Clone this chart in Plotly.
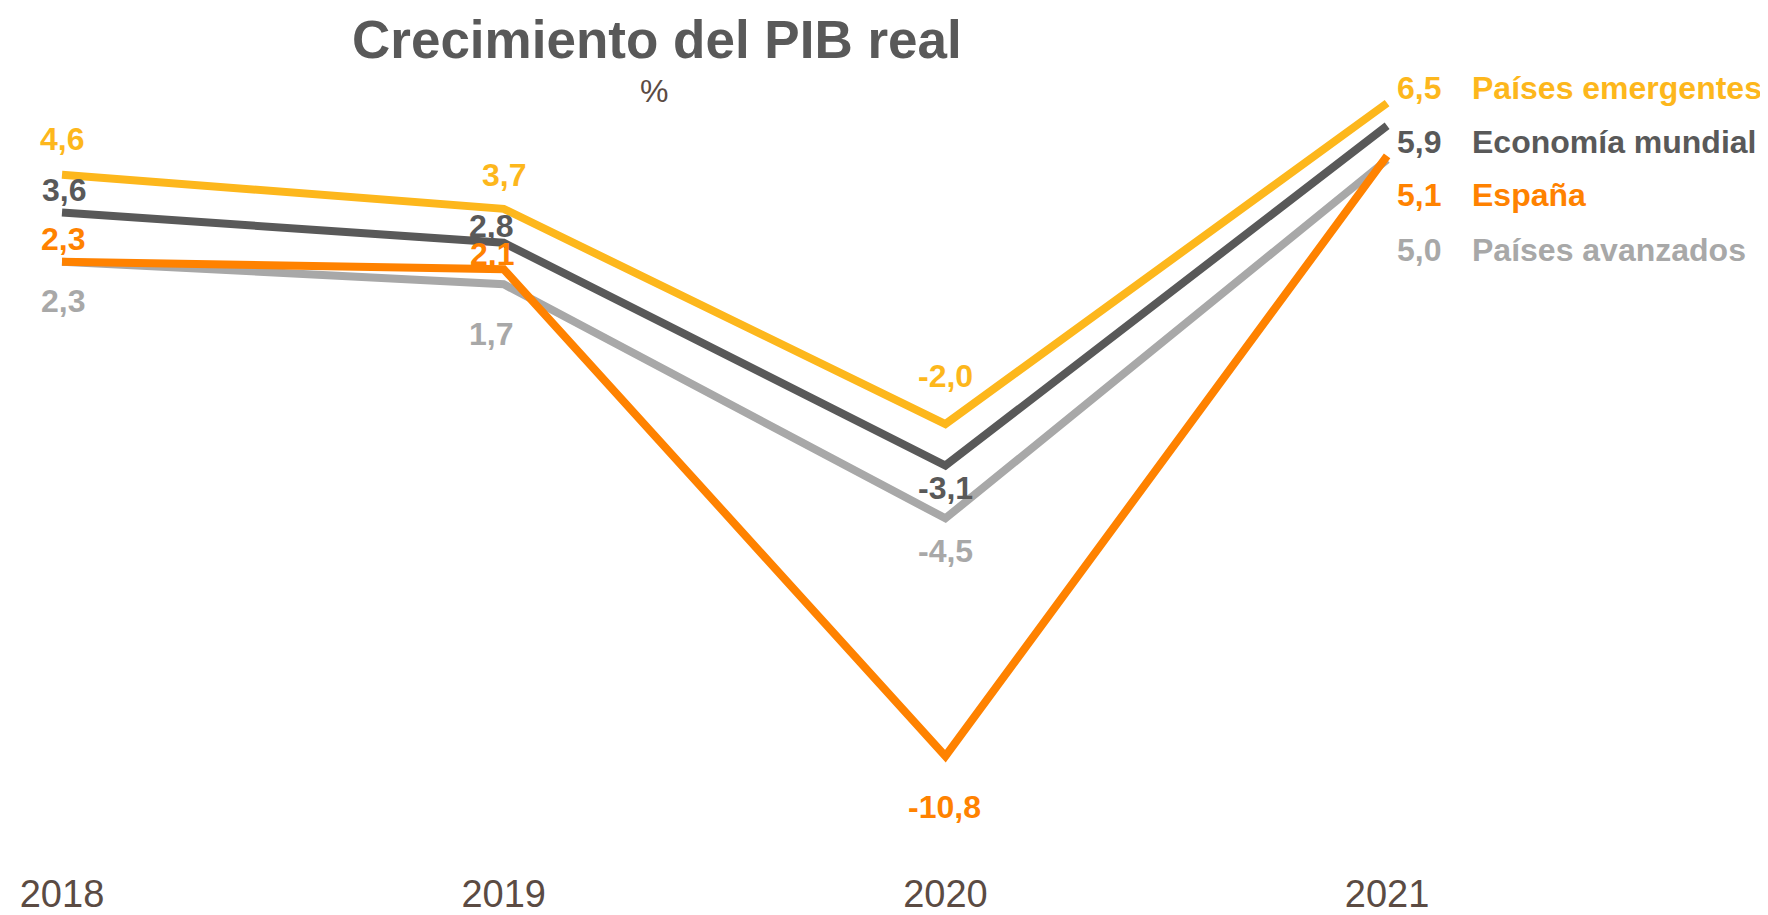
import plotly.graph_objects as go

# ---- data ----
years = ["2018", "2019", "2020", "2021"]
emergentes = [4.6, 3.7, -2.0, 6.5]
mundial = [3.6, 2.8, -3.1, 5.9]
espana = [2.3, 2.1, -10.8, 5.1]
avanzados = [2.3, 1.7, -4.5, 5.0]
names = ["Países emergentes", "Economía mundial", "España", "Países avanzados"]
title_text = "Crecimiento del PIB real"
unit_text = "%"

# ---- style ----
C_EM = "#FDB71C"
C_MU = "#595959"
C_ES = "#FF8200"
C_AV = "#A8A8A8"
TXT = "#5B4B43"
FONT = "Liberation Sans, Arial, sans-serif"
LBL = 32

OFF = 8                      # page body margin
W, H = 1768 - OFF, 915 - OFF
MB = 39
PH = H - MB
px_per_unit = 38.1
step = 441.7
x0_px = 62 - OFF
r0 = -x0_px / step
r1 = r0 + W / step
y_top = 6.5 + (104 - OFF) / px_per_unit
y_bot = y_top - PH / px_per_unit

series = [
    # values, colour, label offsets (dx, dy in px; dy positive = up)
    (avanzados, C_AV, [(1, -39), (-13, -50), (0, -33)]),
    (mundial, C_MU, [(2, 23), (-13, 17), (0, -22)]),
    (emergentes, C_EM, [(0, 36), (0, 34), (0, 48)]),
    (espana, C_ES, [(1, 23), (-12, 15), (-1, -51)]),
]

def fmt(v):
    return f"{v:.1f}".replace(".", ",")

fig = go.Figure()
for vals, col, offs in series:
    fig.add_trace(go.Scatter(
        x=list(range(len(years))), y=vals, mode="lines",
        line=dict(color=col, width=8),
        hoverinfo="skip", cliponaxis=False,
    ))

annotations = []
for vals, col, offs in series:
    for i, (dx, dy) in enumerate(offs):
        annotations.append(dict(
            x=i, y=vals[i], xref="x", yref="y",
            text=f"<b>{fmt(vals[i])}</b>", showarrow=False,
            xshift=dx, yshift=dy,
            font=dict(family=FONT, size=LBL, color=col),
            xanchor="center", yanchor="middle",
        ))

# right-hand labels (page pixel rows)
right = [(emergentes, C_EM, names[0], 89),
         (mundial, C_MU, names[1], 143),
         (espana, C_ES, names[2], 197),
         (avanzados, C_AV, names[3], 252)]
for vals, col, nm, py in right:
    yp = 1 - (py - OFF) / PH
    annotations.append(dict(
        x=(1395 - OFF) / W, y=yp, xref="paper", yref="paper",
        text=f"<b>{fmt(vals[-1])}</b>", showarrow=False,
        xanchor="left", yanchor="middle",
        font=dict(family=FONT, size=LBL, color=col),
    ))
    annotations.append(dict(
        x=(1470 - OFF) / W, y=yp, xref="paper", yref="paper",
        text=f"<b>{nm}</b>", showarrow=False,
        xanchor="left", yanchor="middle",
        font=dict(family=FONT, size=LBL, color=col),
    ))

annotations.append(dict(
    x=(657 - OFF) / W, y=1, xref="paper", yref="paper",
    text=f"<b>{title_text}</b>", showarrow=False,
    xanchor="center", yanchor="top",
    font=dict(family=FONT, size=53, color="#595959"),
))
annotations.append(dict(
    x=(654 - OFF) / W, y=1 - (92 - OFF) / PH, xref="paper", yref="paper",
    text=unit_text, showarrow=False,
    xanchor="center", yanchor="middle",
    font=dict(family=FONT, size=32, color=TXT),
))

fig.update_layout(
    width=W, height=H,
    margin=dict(l=0, r=0, t=0, b=MB),
    paper_bgcolor="white", plot_bgcolor="white",
    showlegend=False,
    annotations=annotations,
    hovermode=False,
)
fig.update_xaxes(
    range=[r0, r1],
    tickvals=list(range(len(years))), ticktext=years,
    showgrid=False, zeroline=False, showline=False, ticks="",
    tickfont=dict(family="Liberation Sans Narrow, Arial Narrow, " + FONT, size=38, color=TXT),
)
fig.update_yaxes(
    range=[y_bot, y_top], visible=False, showgrid=False, zeroline=False,
)

fig.write_html("out.html")
